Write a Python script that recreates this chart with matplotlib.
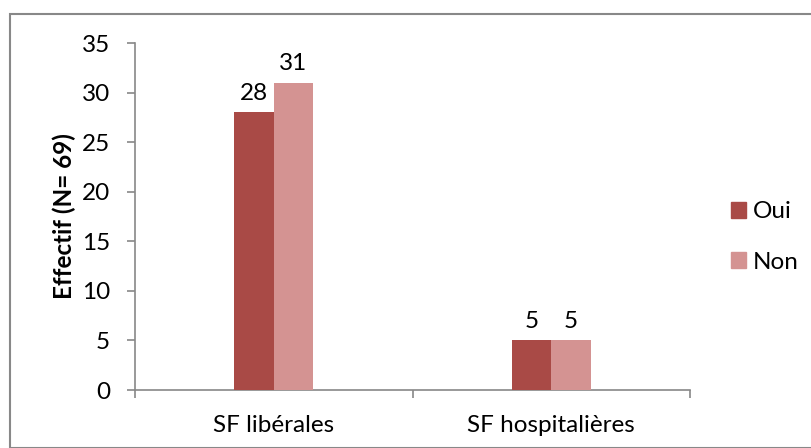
import matplotlib
matplotlib.use("Agg")
import matplotlib.pyplot as plt
from matplotlib.patches import Rectangle, Patch
import numpy as np

categories = ["SF libérales", "SF hospitalières"]
series_names = ["Oui", "Non"]
oui = [28, 5]
non = [31, 5]
yticks = [0, 5, 10, 15, 20, 25, 30, 35]
ylabel = "Effectif (N= 69)"

colors = ["#A94A46", "#D49392"]
spine_col = "#888888"
plt.rcParams['font.family'] = ['Lato', 'DejaVu Sans']
FS = 17.5

fig = plt.figure(figsize=(8.11, 4.48), dpi=100)
ax = fig.add_axes([135/811, 1-390/448, (690-135)/811, (390-43)/448])

x = np.arange(len(categories))
w = 0.1425
for vals, c, off in [(oui, colors[0], -w/2), (non, colors[1], w/2)]:
    bars = ax.bar(x + off, vals, width=w, color=c, zorder=3)
    for b, v in zip(bars, vals):
        ax.annotate(str(v), (b.get_x() + b.get_width()/2, v), xytext=(0, 6),
                    textcoords="offset points", ha="center", va="bottom", fontsize=FS)

ax.set_xlim(-0.5, 1.5)
ax.set_ylim(0, 35)
ax.set_yticks(yticks)
ax.set_xticks(x)
ax.set_xticklabels(categories)
ax.set_xticks([-0.5, 0.5, 1.5], minor=True)
ax.tick_params(axis='x', which='major', length=0, pad=18, labelsize=FS)
ax.tick_params(axis='x', which='minor', length=6, color=spine_col, width=1.2)
ax.tick_params(axis='y', length=6, color=spine_col, width=1.2, labelsize=FS, pad=12)
for s in ["top", "right"]:
    ax.spines[s].set_visible(False)
for s in ["left", "bottom"]:
    ax.spines[s].set_color(spine_col)
    ax.spines[s].set_linewidth(1.2)
ax.set_ylabel(ylabel, fontsize=FS, fontweight="bold", labelpad=4)

handles = [Patch(color=c) for c in colors]
fig.legend(handles, series_names, loc="center left", bbox_to_anchor=(731/811, 1-237/448),
           frameon=False, fontsize=FS, handlelength=0.6, handleheight=0.6,
           handletextpad=0.3, labelspacing=1.2, borderpad=0, borderaxespad=0)

fig.patches.append(Rectangle((10/811, 0), 1.0, 1-14/448, transform=fig.transFigure,
                             fill=False, edgecolor=spine_col, linewidth=1.5))
fig.savefig("out.png", dpi=100)
